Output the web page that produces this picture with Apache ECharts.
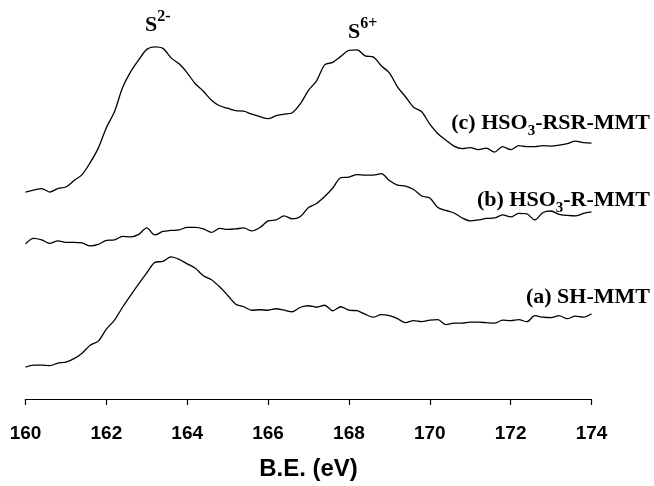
<!DOCTYPE html>
<html lang="en">
<head>
    <meta charset="UTF-8">
    <title>S 2p XPS</title>
    <script src="https://cdn.jsdelivr.net/npm/echarts@6/dist/echarts.min.js"></script>
    <style>
        html, body { margin: 0; padding: 0; background: #fff; }
        #chart { width: 654px; height: 486px; }
    </style>
</head>
<body>
    <div id="chart"></div>

    <script>
    // binding energy (eV) of each sampled point
    var be = [
        160.0, 160.2, 160.4, 160.6, 160.8, 161.0, 161.2, 161.4, 161.6, 161.8,
        162.0, 162.2, 162.4, 162.6, 162.8, 163.0, 163.2, 163.4, 163.6, 163.8,
        164.0, 164.2, 164.4, 164.6, 164.8, 165.0, 165.2, 165.4, 165.6, 165.8,
        166.0, 166.2, 166.4, 166.6, 166.8, 167.0, 167.2, 167.4, 167.6, 167.8,
        168.0, 168.2, 168.4, 168.6, 168.8, 169.0, 169.2, 169.4, 169.6, 169.8,
        170.0, 170.2, 170.4, 170.6, 170.8, 171.0, 171.2, 171.4, 171.6, 171.8,
        172.0, 172.2, 172.4, 172.6, 172.8, 173.0, 173.2, 173.4, 173.6, 173.8,
        174.0
    ];

    // (c) HSO3-RSR-MMT, offset intensity
    var curveC = [
        207.5, 209.5, 211, 207.5, 211, 212.5, 219, 225, 237, 251.5,
        272, 288, 312, 328, 340, 350.5, 353, 351.5, 342, 336,
        327, 316, 308.5, 299.5, 294, 291.5, 289, 288.5, 285.5, 283,
        281, 284, 285.5, 287, 296, 309.5, 319, 335, 337.5, 343.5,
        349.5, 350, 344, 343, 334, 327, 313, 303, 292.5, 288,
        275.5, 266, 259.5, 253.5, 251, 252, 250, 251.5, 247.5, 253,
        250, 254, 253, 253, 254, 253.5, 254.5, 256, 258.5, 257,
        256.5
    ];

    // (b) HSO3-R-MMT
    var curveB = [
        155.5, 161, 159.5, 156, 158.5, 157, 157, 156.5, 153.5, 155,
        159, 159.5, 163, 162.5, 165, 171.5, 164.5, 168, 169, 169.5,
        172, 172, 170.5, 167, 171, 170, 170.5, 171.5, 168.5, 172,
        178.5, 179.5, 183.5, 180.5, 183, 192, 196, 203, 211.5, 222,
        222.5, 225, 224.5, 224.5, 226, 219, 214.5, 213.5, 210, 203.5,
        201.5, 192, 189, 186.5, 181.5, 178.5, 179.5, 181, 181.5, 184.5,
        182.5, 186, 185.5, 179.5, 187, 188.5, 185, 184, 183.5, 186,
        187.5
    ];

    // (a) SH-MMT
    var curveA = [
        32, 34, 34, 33.5, 36, 37, 40.5, 46, 54, 58,
        70, 79, 92, 104, 115.5, 126.5, 137, 138, 142.5, 140,
        135.5, 131, 123.5, 119.5, 112.5, 104, 95, 92.5, 89, 89.5,
        89, 90.5, 89, 87.5, 92, 93.5, 92, 94, 88.5, 92.5,
        89, 88.5, 85, 82, 84.5, 83.5, 80.5, 76.5, 78.5, 77.5,
        79, 79.5, 74.5, 76, 76, 77, 77, 76.5, 76, 79,
        78.5, 79.5, 77.5, 83.5, 82, 81.5, 83.5, 80.5, 83, 82,
        85.5
    ];

    var curveNames = ['(c) HSO3-RSR-MMT', '(b) HSO3-R-MMT', '(a) SH-MMT'];

    function pairs(vals) {
        return be.map(function (x, i) { return [x, vals[i]]; });
    }

    var serif = '"Liberation Serif", "Times New Roman", serif';
    var sans = '"Liberation Sans", Arial, sans-serif';
    var richLabel = {
        m: { fontFamily: serif, fontWeight: 'bold', fontSize: 22, lineHeight: 32, color: '#000' },
        sub: { fontFamily: serif, fontWeight: 'bold', fontSize: 15, lineHeight: 14, verticalAlign: 'bottom', color: '#000' },
        sup: { fontFamily: serif, fontWeight: 'bold', fontSize: 16, lineHeight: 27, verticalAlign: 'top', color: '#000' }
    };

    function labelText(x, y, text, align) {
        return {
            type: 'text',
            style: {
                x: x, y: y, text: text,
                align: align, verticalAlign: 'top',
                rich: richLabel
            }
        };
    }

    var lineStyle = { color: '#000', width: 1.3 };

    var myChart = echarts.init(document.getElementById('chart'));
    var option = {
        animation: false,
        backgroundColor: '#fff',
        grid: { left: 25.5, top: 0, width: 566, height: 406 },
        xAxis: {
            type: 'value',
            min: 160,
            max: 174,
            interval: 2,
            axisLine: { lineStyle: { color: '#000', width: 1.2 } },
            axisTick: { length: 6, lineStyle: { color: '#000', width: 1.2 } },
            axisLabel: {
                margin: 19,
                color: '#000',
                fontFamily: sans,
                fontWeight: 'bold',
                fontSize: 19
            },
            splitLine: { show: false },
            name: 'B.E. (eV)',
            nameLocation: 'middle',
            nameGap: 52,
            nameTextStyle: {
                color: '#000',
                fontFamily: sans,
                fontWeight: 'bold',
                fontSize: 24
            }
        },
        yAxis: { type: 'value', min: -6, max: 400, show: false },
        series: [
            { name: curveNames[0], type: 'line', data: pairs(curveC), showSymbol: false, smooth: 0.3, lineStyle: lineStyle },
            { name: curveNames[1], type: 'line', data: pairs(curveB), showSymbol: false, smooth: 0.3, lineStyle: lineStyle },
            { name: curveNames[2], type: 'line', data: pairs(curveA), showSymbol: false, smooth: 0.3, lineStyle: lineStyle }
        ],
        graphic: [
            labelText(145, 9, '{m|S}{sup|2-}', 'left'),
            labelText(348, 16, '{m|S}{sup|6+}', 'left'),
            labelText(650, 107, '{m|(c) HSO}{sub|3}{m|-RSR-MMT}', 'right'),
            labelText(650, 184, '{m|(b) HSO}{sub|3}{m|-R-MMT}', 'right'),
            labelText(650, 281, '{m|(a) SH-MMT}', 'right')
        ]
    };
    myChart.setOption(option);
    </script>
</body>
</html>
